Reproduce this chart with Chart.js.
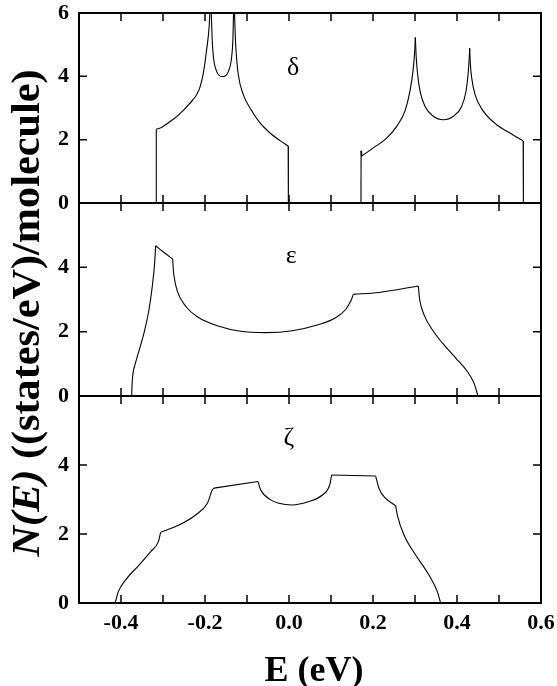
<!DOCTYPE html>
<html>
<head>
<meta charset="utf-8">
<script src="https://cdn.jsdelivr.net/npm/chart.js@4"></script>
<style>
  body { margin: 0; background: #fff; }
  #wrap { width: 557px; height: 686px; position: relative; }
</style>
</head>
<body>
<div id="wrap"><canvas id="dosChart"></canvas></div>
<script>
// energies (eV) and N(E) values
// delta band (two sub-bands, null = gap)
const deltaE = [-0.316, -0.316, -0.305, -0.294, -0.278, -0.262, -0.238, -0.214, -0.204, -0.196,
  -0.190, -0.1865, -0.183, -0.180, -0.172, -0.159, -0.1445, -0.1365, -0.1335, -0.131,
  -0.128, -0.126, -0.1207, -0.1088, -0.0929, -0.069, -0.0452, -0.0214, -0.002, -0.0015,
  null,
  0.1714, 0.1716, 0.173, 0.2008, 0.2325, 0.2564, 0.276, 0.288, 0.296, 0.2995,
  0.3008, 0.3025, 0.3055, 0.312, 0.324, 0.3436, 0.3675, 0.3913, 0.411, 0.4214,
  0.427, 0.4292, 0.4302, 0.4318, 0.435, 0.443, 0.4627, 0.4945, 0.526, 0.5575, 0.558];
const deltaN = [0, 2.33, 2.38, 2.47, 2.62, 2.79, 3.12, 3.58, 4.1, 4.85,
  5.6, 6.6, 5.2, 4.62, 4.15, 3.99, 4.15, 4.62, 5.2, 6.6,
  5.3, 4.79, 4.05, 3.42, 3.0, 2.53, 2.21, 1.97, 1.80, 0,
  null,
  0, 1.65, 1.48, 1.74, 2.05, 2.42, 2.9, 3.53, 4.26, 4.85,
  5.23, 4.7, 4.16, 3.53, 3.05, 2.74, 2.63, 2.74, 3.05, 3.53,
  4.16, 4.6, 4.89, 4.4, 3.95, 3.42, 2.9, 2.47, 2.21, 1.96, 0];
const deltaCorners = [1, 11, 19, 28, 32, 33, 41, 53, 60];

// epsilon band
const epsE = [-0.3746, -0.3735, -0.3714, -0.3665, -0.3611, -0.3452, -0.3333, -0.3254, -0.3198, -0.3175,
  -0.2976, -0.277, -0.2755, -0.2738, -0.266, -0.246, -0.2143, -0.1667, -0.119, -0.0555,
  0.0079, 0.0714, 0.1111, 0.135, 0.147, 0.1532, 0.2143, 0.3079, 0.3111, 0.3214,
  0.3413, 0.365, 0.397, 0.4246, 0.4405, 0.45];
const epsN = [0, 0.4, 0.71, 0.98, 1.23, 1.96, 2.69, 3.42, 4.15, 4.67,
  4.46, 4.26, 3.95, 3.73, 3.26, 2.79, 2.43, 2.17, 2.02, 1.97,
  2.03, 2.22, 2.43, 2.69, 2.95, 3.16, 3.22, 3.42, 3.0, 2.53,
  2.06, 1.65, 1.18, 0.76, 0.40, 0];
const epsCorners = [9, 11, 25, 27];

// zeta band
const zetaE = [-0.414, -0.4095, -0.4064, -0.3889, -0.357, -0.3294, -0.311, -0.3056, -0.2619, -0.2222,
  -0.1944, -0.1825, -0.1786, -0.0738, -0.0675, -0.0437, -0.0238, 0.0064, 0.0476, 0.0794,
  0.0968, 0.1016, 0.2063, 0.2143, 0.2302, 0.254, 0.2579, 0.2738, 0.3016, 0.3333,
  0.3532, 0.3611];
const zetaN = [0, 0.2, 0.33, 0.67, 1.10, 1.49, 1.78, 2.05, 2.26, 2.55,
  2.89, 3.28, 3.33, 3.52, 3.28, 2.99, 2.89, 2.84, 2.94, 3.13,
  3.42, 3.71, 3.68, 3.32, 3.03, 2.82, 2.55, 1.97, 1.39, 0.81,
  0.33, 0];
const zetaCorners = [7, 12, 13, 21, 22, 25];

const xTickMarks = [-0.4, -0.3, -0.2, -0.1, 0.0, 0.1, 0.2, 0.3, 0.4, 0.5];
const yTickMarks = [2, 4];
const panelLabels = ['δ', 'ε', 'ζ'];

const serif = '"Liberation Serif", "Times New Roman", serif';

// split a curve into pieces at kinks and gaps; smooth inside each piece
function pieces(es, ns, corners, axis) {
  const out = [];
  let cur = [];
  const flush = () => {
    if (cur.length > 1) {
      out.push({
        data: cur,
        yAxisID: axis,
        borderColor: '#000',
        borderWidth: 1.1,
        pointRadius: 0,
        tension: 0,
        cubicInterpolationMode: cur.length > 2 ? 'monotone' : 'default',
        fill: false
      });
    }
  };
  es.forEach((e, i) => {
    if (e === null || ns[i] === null) { flush(); cur = []; return; }
    cur.push({ x: e, y: ns[i] });
    if (corners.includes(i)) { flush(); cur = [{ x: e, y: ns[i] }]; }
  });
  flush();
  return out;
}

function noPad(s) {
  s.paddingTop = 0; s.paddingBottom = 0; s.paddingLeft = 0; s.paddingRight = 0;
}

function yAxis(weight, size, showTop) {
  return {
    type: 'linear',
    position: 'left',
    stack: 'dos',
    stackWeight: size,
    weight: weight,
    min: 0,
    max: 6,
    grid: { display: false, drawTicks: false },
    border: { display: false },
    ticks: {
      stepSize: 2,
      padding: 10,
      color: '#000',
      font: { family: serif, size: 22, weight: 'bold' },
      callback: v => (v === 6 && !showTop) ? '' : String(v)
    },
    afterFit: s => { s.width = 79; noPad(s); }
  };
}

const panels = [
  { axis: 'yTop', label: panelLabels[0], at: [0.01, 4.05] },
  { axis: 'yMid', label: panelLabels[1], at: [0.005, 4.15] },
  { axis: 'yBot', label: panelLabels[2], at: [0.0, 4.58] }
];

// frames, inward ticks, panel letters and axis titles
const decorations = {
  id: 'decorations',
  afterDraw(chart) {
    const ctx = chart.ctx;
    const xs = chart.scales.x;
    const area = chart.chartArea;
    ctx.save();
    ctx.strokeStyle = '#000';
    ctx.fillStyle = '#000';
    panels.forEach(p => {
      const s = chart.scales[p.axis];
      ctx.lineWidth = 1.5;
      ctx.beginPath();
      xTickMarks.forEach(v => {
        const px = xs.getPixelForValue(v);
        ctx.moveTo(px, s.bottom); ctx.lineTo(px, s.bottom - 8);
        ctx.moveTo(px, s.top); ctx.lineTo(px, s.top + 8);
      });
      yTickMarks.forEach(v => {
        const py = s.getPixelForValue(v);
        ctx.moveTo(area.left, py); ctx.lineTo(area.left + 8, py);
        ctx.moveTo(area.right, py); ctx.lineTo(area.right - 8, py);
      });
      ctx.stroke();
      ctx.lineWidth = 2;
      ctx.strokeRect(area.left, s.top, area.right - area.left, s.bottom - s.top);

      ctx.font = '26px ' + serif;
      ctx.textAlign = 'center';
      ctx.textBaseline = 'alphabetic';
      ctx.fillText(p.label, xs.getPixelForValue(p.at[0]), s.getPixelForValue(p.at[1]));
    });

    // x title
    ctx.font = 'bold 36px ' + serif;
    ctx.textAlign = 'center';
    ctx.fillText('E (eV)', (area.left + area.right) / 2 + 4, 681);

    // y title, N(E) in italic
    const partA = 'N(E)';
    const partB = ' ((states/eV)/molecule)';
    const fA = 'italic bold 40px ' + serif;
    const fB = 'bold 40px ' + serif;
    ctx.font = fA; const wA = ctx.measureText(partA).width;
    ctx.font = fB; const wB = ctx.measureText(partB).width;
    const total = wA + wB;
    ctx.translate(39, 313);
    ctx.rotate(-Math.PI / 2);
    ctx.scale(487 / total, 1);
    ctx.textAlign = 'left';
    ctx.font = fA;
    ctx.fillText(partA, -total / 2, 0);
    ctx.font = fB;
    ctx.fillText(partB, -total / 2 + wA, 0);
    ctx.restore();
  }
};

new Chart(document.getElementById('dosChart'), {
  type: 'line',
  data: {
    datasets: [
      ...pieces(deltaE, deltaN, deltaCorners, 'yTop'),
      ...pieces(epsE, epsN, epsCorners, 'yMid'),
      ...pieces(zetaE, zetaN, zetaCorners, 'yBot')
    ]
  },
  options: {
    responsive: true,
    maintainAspectRatio: false,
    animation: false,
    layout: { autoPadding: false, padding: { top: 13, right: 16, left: 0, bottom: 0 } },
    plugins: { legend: { display: false }, tooltip: { enabled: false } },
    scales: {
      x: {
        type: 'linear',
        position: 'bottom',
        min: -0.5,
        max: 0.6,
        grid: { display: false, drawTicks: false },
        border: { display: false },
        ticks: {
          stepSize: 0.1,
          autoSkip: false,
          maxRotation: 0,
          padding: 7,
          color: '#000',
          font: { family: serif, size: 22, weight: 'bold' },
          callback: v => (Math.abs(Math.round(v * 10)) % 2 === 0) ? v.toFixed(1) : ''
        },
        afterFit: s => { s.height = 83; noPad(s); }
      },
      yBot: yAxis(1, 207, false),
      yMid: yAxis(2, 193, false),
      yTop: yAxis(3, 190, true)
    }
  },
  plugins: [decorations]
});
</script>
</body>
</html>
